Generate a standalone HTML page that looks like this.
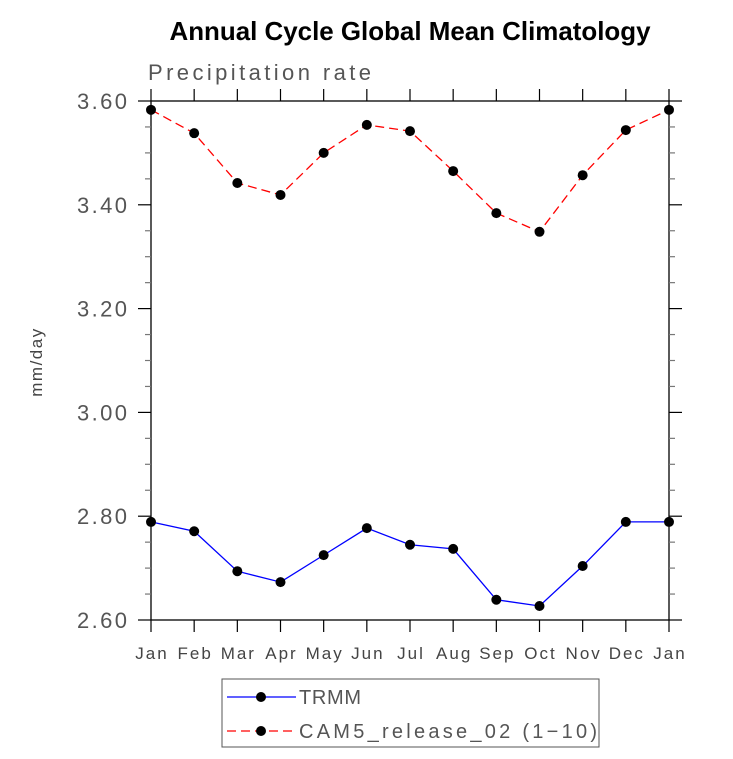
<!DOCTYPE html>
<html><head><meta charset="utf-8"><style>
body{margin:0;background:#fff;width:733px;height:754px;overflow:hidden}
text{font-family:"Liberation Sans",sans-serif}
</style></head><body>
<svg id="chart" width="733" height="754" xmlns="http://www.w3.org/2000/svg">
<text x="410" y="40" text-anchor="middle" font-size="26" font-weight="bold" fill="#000" textLength="481" lengthAdjust="spacingAndGlyphs">Annual Cycle Global Mean Climatology</text>
<text x="148" y="80" font-size="22" fill="#555" textLength="223" lengthAdjust="spacing">Precipitation rate</text>
<text transform="translate(42,362) rotate(-90)" text-anchor="middle" font-size="17" fill="#444" letter-spacing="1.5">mm/day</text>
<g id="axes"></g>
<g id="series"></g>
<g>
<rect x="222" y="679" width="377" height="68" fill="none" stroke="#555" stroke-width="1"/>
<line x1="227" y1="697" x2="296" y2="697" stroke="#00f" stroke-width="1.2"/>
<circle cx="261" cy="697" r="5" fill="#000"/>
<text x="299" y="704" font-size="20" fill="#555" textLength="62" lengthAdjust="spacing">TRMM</text>
<line x1="227" y1="731" x2="296" y2="731" stroke="#f00" stroke-width="1.2" stroke-dasharray="9,5"/>
<circle cx="261" cy="731" r="5" fill="#000"/>
<text x="299" y="738" font-size="20" fill="#555" textLength="298" lengthAdjust="spacing">CAM5_release_02 (1−10)</text>
</g>
</svg>
<script>
const months=["Jan","Feb","Mar","Apr","May","Jun","Jul","Aug","Sep","Oct","Nov","Dec","Jan"];
const trmm=[2.789,2.771,2.694,2.673,2.725,2.777,2.745,2.737,2.639,2.627,2.704,2.789,2.789];
const cam5=[3.583,3.538,3.442,3.419,3.500,3.554,3.542,3.465,3.384,3.348,3.457,3.544,3.583];
const yTicks=[2.6,2.8,3.0,3.2,3.4,3.6];
const yTickLabels=["2.60","2.80","3.00","3.20","3.40","3.60"];
const X0=151,X1=669,Y0=620,Y1=101,YMIN=2.6,YMAX=3.6;
const xs=i=>X0+(X1-X0)*i/(months.length-1);
const ys=v=>Y0-(v-YMIN)/(YMAX-YMIN)*(Y0-Y1);
const NS="http://www.w3.org/2000/svg";
function mk(tag,attrs,parent){const e=document.createElementNS(NS,tag);for(const k in attrs)e.setAttribute(k,attrs[k]);parent.appendChild(e);return e;}
const ax=document.getElementById('axes');
const fr=mk('rect',{x:X0,y:Y1,width:X1-X0,height:Y0-Y1,fill:'none',stroke:'#000','stroke-width':1.3},ax);


for(let v=YMIN;v<=YMAX+1e-9;v+=0.05){
  const major=Math.abs(v*5-Math.round(v*5))<1e-6;
  const L=major?13:6,y=ys(v);
  mk('line',{x1:X0-L,y1:y,x2:X0,y2:y,stroke:major?'#000':'#777','stroke-width':1.2},ax);
  mk('line',{x1:X1,y1:y,x2:X1+L,y2:y,stroke:major?'#000':'#777','stroke-width':1.2},ax);
}
yTicks.forEach((v,i)=>{
  const t=mk('text',{x:77,y:ys(v)+8,'font-size':22,fill:'#555',textLength:50,lengthAdjust:'spacing'},ax);
  t.textContent=yTickLabels[i];
  
  
});
months.forEach((m,i)=>{
  const x=xs(i);
  mk('line',{x1:x,y1:Y0,x2:x,y2:Y0+12,stroke:'#000','stroke-width':1.2},ax);
  mk('line',{x1:x,y1:Y1-12,x2:x,y2:Y1,stroke:'#000','stroke-width':1.2},ax);
  const t=mk('text',{x:x+1,y:659,'text-anchor':'middle','font-size':17,fill:'#444','letter-spacing':2},ax);
  t.textContent=m;
  
  
});
const sg=document.getElementById('series');
function series(vals,color,dash,name){
  const p=mk('polyline',{points:vals.map((v,i)=>xs(i)+','+ys(v)).join(' '),fill:'none',stroke:color,'stroke-width':1.3},sg);
  if(dash)p.setAttribute('stroke-dasharray',dash);
  
  
  vals.forEach((v,i)=>{
    const c=mk('circle',{cx:xs(i),cy:ys(v),r:5,fill:'#000'},sg);
    
    
  });
}
series(trmm,'#00f',null,'trmm');
series(cam5,'#f00','9,5','cam5');
</script>
</body></html>
